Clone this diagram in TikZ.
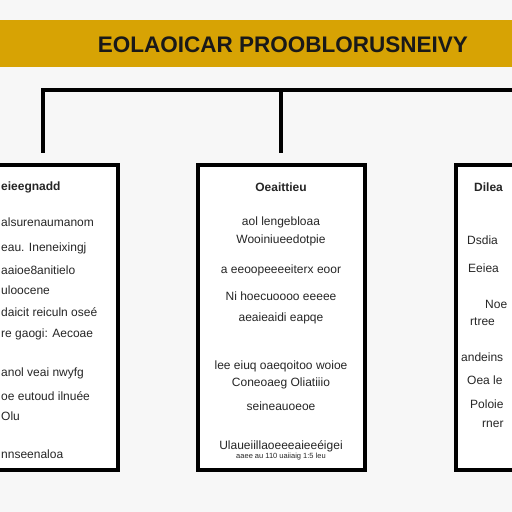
\documentclass[tikz,border=0pt]{standalone}
\usepackage{fontspec}
\setmainfont{Liberation Sans}

\definecolor{bandgold}{HTML}{D7A304}
\definecolor{paper}{HTML}{F7F7F7}
\definecolor{inktext}{HTML}{262626}

\begin{document}
\begin{tikzpicture}[x=1pt, y=-1pt,
    panel/.style = {draw=black, line width=3.5pt, fill=white, minimum width=167pt, minimum height=305pt, inner sep=0pt},
    bus/.style = {line width=4pt},
    txtline/.style = {text=inktext, font=\fontsize{12}{14}\selectfont, inner sep=0pt},
    headline/.style = {txtline, font=\fontsize{12}{14}\selectfont\bfseries}]

    \useasboundingbox (0,0) rectangle (512,512);
    \clip (0,0) rectangle (512,512);
    \fill[paper] (0,0) rectangle (512,512);

    % title band
    \fill[bandgold] (0,20) rectangle (512,67);
    \node[font=\fontsize{22.5}{26}\selectfont\bfseries, text=black!90] (title) at (283,45) {EOLAOICAR PROOBLORUSNEIVY};

    % the three panels
    \node[panel] (leftbox) at (34.5,317.5) {};
    \node[panel] (midbox) at (281.5,317.5) {};
    \node[panel] (rightbox) at (539.5,317.5) {};

    % connectors
    \coordinate (busR) at (520,90);
    \coordinate (dropL) at (43,153);
    \coordinate (dropM) at (281,153);
    \draw[bus] (busR) -- (dropL |- busR) -- (dropL);
    \draw[bus] (dropM |- busR) -- (dropM);

    % left panel text
    \node[headline, anchor=west] (lhead) at (1,187) {eieegnadd};
    \foreach \y/\t in {222/alsurenaumanom, 248/eau. Ineneixingj, 270/aaioe8anitielo,
        290/uloocene, 312/daicit reiculn oseé, 334/re gaogi: Aecoae,
        373/anol veai nwyfg, 396/oe eutoud ilnuée, 416/Olu, 454/nnseenaloa}
        \node[txtline, anchor=west] (left-\y) at (1,\y) {\t};

    % middle panel text
    \node[headline] (mhead) at (281,187) {Oeaittieu};
    \foreach \y/\t in {222/aol lengebloaa, 240/Wooiniueedotpie, 270/a eeoopeeeeiterx eoor,
        296/Ni hoecuoooo eeeee, 318/aeaieaidi eapqe,
        366/lee eiuq oaeqoitoo woioe, 383/Coneoaeg Oliatiiio, 406/seineauoeoe,
        446/Ulaueiillaoeeeaieeéigei}
        \node[txtline] (mid-\y) at (281,\y) {\t};
    \node[txtline, font=\fontsize{7.5}{9}\selectfont] (mid-456) at (281,457) {aaee au 110 uaiiaig 1:5 leu};

    % right panel text
    \node[headline, anchor=west] (rhead) at (474,187) {Dilea};
    \foreach \y/\x/\t in {240/467/Dsdia, 268/468/Eeiea, 304/485/Noe, 322/470/rtree,
        357/461/andeins, 380/467/Oea le, 404/470/Poloie, 424/482/rner}
        \node[txtline, anchor=west] (right-\y) at (\x,\y) {\t};

\end{tikzpicture}
\end{document}
